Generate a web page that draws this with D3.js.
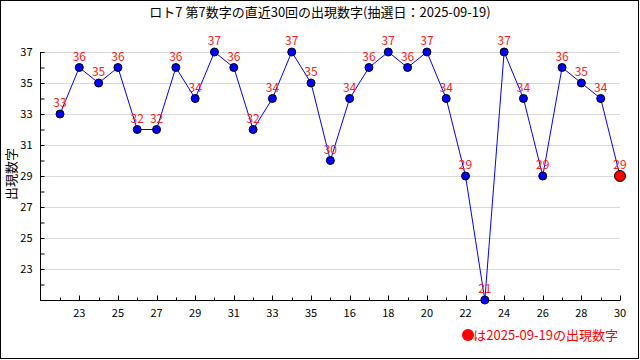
<!DOCTYPE html>
<html>
<head>
<meta charset="utf-8">
<script src="https://cdn.jsdelivr.net/npm/d3@7"></script>
<style>
  body { margin: 0; background: #fff; }
  svg { display: block; }
  text { font-family: "Noto Sans CJK JP", "DejaVu Sans", sans-serif; }
</style>
</head>
<body>
<div id="chart"></div>
<script>
// DATA
const drawLabels = [22, 23, 24, 25, 26, 27, 28, 29, 30, 31, 32, 33, 34, 35, 36,
                    16, 17, 18, 19, 20, 21, 22, 23, 24, 25, 26, 27, 28, 29, 30];
const numbers = [33, 36, 35, 36, 32, 32, 36, 34, 37, 36, 32, 34, 37, 35, 30,
                 34, 36, 37, 36, 37, 34, 29, 21, 37, 34, 29, 36, 35, 34, 29];
const yTicks = [23, 25, 27, 29, 31, 33, 35, 37];
const titleText = "ロト7 第7数字の直近30回の出現数字(抽選日：2025-09-19)";
const legendText = "は2025-09-19の出現数字";

// SIZES
const width = 640, height = 360;
const plotLeft = 40, plotRight = 620, plotTop = 52, plotBottom = 300;

const svg = d3.select("#chart").append("svg")
    .attr("width", width)
    .attr("height", height);

// outer frame
svg.append("rect")
    .attr("x", 0.5).attr("y", 0.5)
    .attr("width", width - 2).attr("height", height - 2)
    .attr("fill", "none").attr("stroke", "#000");

// scales
const idx = d3.range(1, numbers.length + 1);
const x = d3.scaleLinear().domain([1, numbers.length]).range([60, plotRight]);
const y = d3.scaleLinear().domain([21, 37]).range([plotBottom, plotTop]);

// grid lines
svg.append("g")
  .selectAll("line")
  .data(yTicks)
  .join("line")
    .attr("x1", plotLeft).attr("x2", plotRight)
    .attr("y1", d => y(d) + 0.5).attr("y2", d => y(d) + 0.5)
    .attr("stroke", "#d9d9d9");

// y axis
const yAxis = svg.append("g").attr("transform", `translate(${plotLeft + 0.5},0)`);
yAxis.append("line")
    .attr("y1", y(37)).attr("y2", y(21) + 0.5)
    .attr("stroke", "#000");
yAxis.selectAll(".tick")
  .data(d3.range(22, 38))
  .join("line")
    .attr("x1", 0)
    .attr("x2", 4)
    .attr("y1", d => y(d) + 0.5).attr("y2", d => y(d) + 0.5)
    .attr("stroke", "#000");
yAxis.selectAll("text")
  .data(yTicks)
  .join("text")
    .attr("x", -8)
    .attr("y", d => y(d))
    .attr("dy", "0.35em")
    .attr("text-anchor", "end")
    .attr("font-size", 11)
    .text(d => d);

// x axis
const xAxis = svg.append("g").attr("transform", `translate(0,${plotBottom + 0.5})`);
xAxis.append("line")
    .attr("x1", plotLeft).attr("x2", plotRight + 0.5)
    .attr("stroke", "#000");
xAxis.selectAll(".tick")
  .data(idx)
  .join("line")
    .attr("x1", d => Math.round(x(d)) + 0.5).attr("x2", d => Math.round(x(d)) + 0.5)
    .attr("y1", 0)
    .attr("y2", d => d % 2 == 0 ? -5 : -3)
    .attr("stroke", "#000");
xAxis.selectAll("text")
  .data(idx.filter(d => d % 2 == 0))
  .join("text")
    .attr("x", d => x(d))
    .attr("y", 13)
    .attr("dy", "0.35em")
    .attr("text-anchor", "middle")
    .attr("font-size", 11)
    .text(d => drawLabels[d - 1]);

// y axis title
svg.append("text")
    .attr("transform", "translate(11,174) rotate(-90)")
    .attr("text-anchor", "middle")
    .attr("dy", "0.35em")
    .attr("font-size", 13)
    .text("出現数字");

// chart title
svg.append("text")
    .attr("x", width / 2)
    .attr("y", 12)
    .attr("dy", "0.35em")
    .attr("text-anchor", "middle")
    .attr("font-size", 13)
    .text(titleText);

// line
const line = d3.line()
    .x((d, i) => x(i + 1))
    .y(d => y(d));

svg.append("path")
    .datum(numbers)
    .attr("fill", "none")
    .attr("stroke", "#0000ff")
    .attr("stroke-width", 1)
    .attr("d", line);

// points
svg.append("g")
  .selectAll("circle")
  .data(numbers)
  .join("circle")
    .attr("cx", (d, i) => x(i + 1))
    .attr("cy", d => y(d))
    .attr("r", (d, i) => i == numbers.length - 1 ? 5.5 : 4)
    .attr("fill", (d, i) => i == numbers.length - 1 ? "#ff0000" : "#0000ff")
    .attr("stroke", "#000")
    .attr("stroke-width", 1);

// value labels
svg.append("g")
  .selectAll("text")
  .data(numbers)
  .join("text")
    .attr("x", (d, i) => x(i + 1))
    .attr("y", d => y(d) - 7)
    .attr("text-anchor", "middle")
    .attr("fill", "#ff2020")
    .attr("font-size", 12)
    .text(d => d);

// legend
const legend = svg.append("g").attr("transform", "translate(618,335)");
legend.append("text")
    .attr("x", 0)
    .attr("dy", "0.35em")
    .attr("text-anchor", "end")
    .attr("fill", "#ff0000")
    .attr("font-size", 13)
    .text(legendText);
legend.append("circle")
    .attr("cx", -150)
    .attr("cy", 0)
    .attr("r", 6)
    .attr("fill", "#ff0000");
</script>
</body>
</html>
